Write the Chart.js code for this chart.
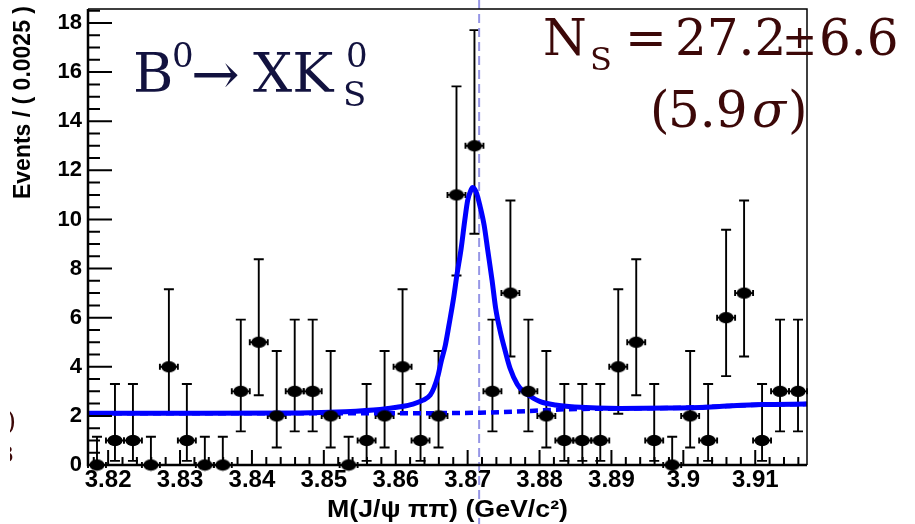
<!DOCTYPE html>
<html>
<head>
<meta charset="utf-8">
<script src="https://cdn.jsdelivr.net/npm/chart.js@4.4.1/dist/chart.umd.min.js"></script>
<style>
	body { margin: 0; background: #fff; }
	canvas { display: block; }
</style>
</head>
<body>
<canvas id="massChart" width="915" height="524"></canvas>
<script>
// axis range and ticks
const xMin = 3.8172, xMax = 3.9172;
const yMin = 0, yMax = 18.57;
const xTicks = [3.82, 3.83, 3.84, 3.85, 3.86, 3.87, 3.88, 3.89, 3.9, 3.91];
const xTickLabels = ["3.82", "3.83", "3.84", "3.85", "3.86", "3.87", "3.88", "3.89", "3.9", "3.91"];
const yTicks = [0, 2, 4, 6, 8, 10, 12, 14, 16, 18];
const yTickLabels = ["0", "2", "4", "6", "8", "10", "12", "14", "16", "18"];
const xTitle = "M(J/\u03c8 \u03c0\u03c0) (GeV/c\u00b2)";
const yTitle = "Events / ( 0.0025 )";
const peakLine = 3.8716;

// binned data (bin width 0.0025)
const binCenters = [3.81845, 3.82095, 3.82345, 3.82595, 3.82845, 3.83095, 3.83345, 3.83595, 3.83845, 3.84095,
	3.84345, 3.84595, 3.84845, 3.85095, 3.85345, 3.85595, 3.85845, 3.86095, 3.86345, 3.86595,
	3.86845, 3.87095, 3.87345, 3.87595, 3.87845, 3.88095, 3.88345, 3.88595, 3.88845, 3.89095,
	3.89345, 3.89595, 3.89845, 3.90095, 3.90345, 3.90595, 3.90845, 3.91095, 3.91345, 3.91595];
const binHalf = 0.00125;
const counts = [0, 1, 1, 0, 4, 1, 0, 0, 3, 5, 2, 3, 3, 2, 0, 1, 2, 4, 1, 2,
	11, 13, 3, 7, 3, 2, 1, 1, 1, 4, 5, 1, 0, 2, 1, 6, 7, 1, 3, 3];
const errLow = [0, 0.83, 0.83, 0, 1.91, 0.83, 0, 0, 1.63, 2.16, 1.29, 1.63, 1.63, 1.29, 0, 0.83, 1.29, 1.91, 0.83, 1.29,
	3.28, 3.58, 1.63, 2.58, 1.63, 1.29, 0.83, 0.83, 0.83, 1.91, 2.16, 0.83, 0, 1.29, 0.83, 2.38, 2.58, 0.83, 1.63, 1.63];
const errHigh = [1.15, 2.3, 2.3, 1.15, 3.16, 2.3, 1.15, 1.15, 2.92, 3.38, 2.64, 2.92, 2.92, 2.64, 1.15, 2.3, 2.64, 3.16, 2.3, 2.64,
	4.42, 4.71, 2.92, 3.77, 2.92, 2.64, 2.3, 2.3, 2.3, 3.16, 3.38, 2.3, 1.15, 2.64, 2.3, 3.58, 3.77, 2.3, 2.92, 2.92];

// fit curve (signal + background)
const fitX = [3.8172, 3.8328, 3.8467, 3.8529, 3.8578, 3.8606, 3.8624, 3.8638, 3.8648, 3.8653,
	3.8659, 3.8663, 3.8669, 3.8674, 3.8680, 3.8685, 3.8691, 3.8696, 3.8700, 3.8705,
	3.8707, 3.8712, 3.8717, 3.8723, 3.8728, 3.8734, 3.8739, 3.8745, 3.8752, 3.8759,
	3.8769, 3.8777, 3.8787, 3.8801, 3.8822, 3.8849, 3.8912, 3.8984, 3.9023, 3.9061, 3.9109, 3.9172];
const fitY = [2.11, 2.11, 2.12, 2.17, 2.26, 2.37, 2.48, 2.64, 2.85, 3.13,
	3.66, 4.19, 4.88, 5.69, 6.71, 7.72, 8.82, 9.96, 10.77, 11.22,
	11.30, 11.10, 10.57, 9.76, 8.74, 7.52, 6.38, 5.49, 4.67, 3.94,
	3.29, 3.01, 2.80, 2.58, 2.44, 2.36, 2.30, 2.32, 2.34, 2.40, 2.46, 2.48];
// background only
const bkgX = [3.8172, 3.8606, 3.8717, 3.8787, 3.8828, 3.8912, 3.8984, 3.9061, 3.9109, 3.9172];
const bkgY = [2.11, 2.11, 2.13, 2.20, 2.26, 2.30, 2.32, 2.40, 2.46, 2.48];

const fitBlue = "#0000ff";
const labelFont = "'Liberation Sans', Arial, sans-serif";

function toPoints(xs, ys){
	let pts = [];
	for(let i=0;i<xs.length;i++) pts.push({x: xs[i], y: ys[i]});
	return pts;
}

function makeMarker(){
	let c = document.createElement("canvas");
	c.width = 16; c.height = 13;
	let g = c.getContext("2d");
	g.fillStyle = "#000";
	g.beginPath();
	g.ellipse(8, 6.5, 7.5, 5.8, 0, 0, 2*Math.PI);
	g.fill();
	return c;
}

// error bars + the dashed marker line, under the curves
const errorBarPlugin = {
	id: "errorBars",
	beforeDatasetsDraw(chart){
		let ctx = chart.ctx;
		let xs = chart.scales.x, ys = chart.scales.y;
		ctx.save();
		ctx.strokeStyle = "#000";
		ctx.lineWidth = 1.9;
		for(let i=0;i<counts.length;i++){
			let px = xs.getPixelForValue(binCenters[i]);
			let py = ys.getPixelForValue(counts[i]);
			let top = ys.getPixelForValue(counts[i] + errHigh[i]);
			let bot = ys.getPixelForValue(counts[i] - errLow[i]);
			let left = xs.getPixelForValue(binCenters[i] - binHalf);
			let right = xs.getPixelForValue(binCenters[i] + binHalf);
			ctx.beginPath();
			ctx.moveTo(px, top); ctx.lineTo(px, bot);
			ctx.moveTo(px-5, top); ctx.lineTo(px+5, top);
			if(errLow[i] > 0){ ctx.moveTo(px-5, bot); ctx.lineTo(px+5, bot); }
			ctx.moveTo(left, py); ctx.lineTo(right, py);
			ctx.moveTo(left, py-3); ctx.lineTo(left, py+3);
			ctx.moveTo(right, py-3); ctx.lineTo(right, py+3);
			ctx.stroke();
		}
		// vertical dashed line at the peak
		let lx = xs.getPixelForValue(peakLine);
		ctx.strokeStyle = "rgb(150,150,230)";
		ctx.lineWidth = 2;
		ctx.setLineDash([9, 5]);
		ctx.beginPath();
		ctx.moveTo(lx, 0); ctx.lineTo(lx, chart.height);
		ctx.stroke();
		ctx.restore();
	}
};

// ROOT style frame with inside ticks
const framePlugin = {
	id: "frame",
	afterDatasetsDraw(chart){
		let ctx = chart.ctx;
		let a = chart.chartArea;
		let xs = chart.scales.x, ys = chart.scales.y;
		ctx.save();
		ctx.strokeStyle = "#000";
		ctx.lineWidth = 1.5;
		ctx.beginPath();
		ctx.moveTo(a.left, a.top); ctx.lineTo(a.right, a.top); ctx.lineTo(a.right, a.bottom);
		ctx.stroke();
		ctx.lineWidth = 2.5;
		ctx.beginPath();
		ctx.moveTo(a.left, a.top); ctx.lineTo(a.left, a.bottom); ctx.lineTo(a.right, a.bottom);
		ctx.stroke();
		ctx.lineWidth = 2;
		ctx.beginPath();
		// y ticks: major every 2, minor every 0.5
		for(let v=0; v<=yMax; v+=0.5){
			let py = ys.getPixelForValue(v);
			let len = (Math.abs(v/2 - Math.round(v/2)) < 1e-6) ? 24 : 12;
			ctx.moveTo(a.left, py); ctx.lineTo(a.left+len, py);
		}
		// x ticks: major every 0.01, minor every 0.002
		for(let k=0; k<=50; k++){
			let v = 3.818 + k*0.002;
			if(v > xMax) break;
			let px = xs.getPixelForValue(v);
			let len = (k % 5 == 1) ? 15 : 8;
			ctx.moveTo(px, a.bottom); ctx.lineTo(px, a.bottom-len);
		}
		ctx.stroke();
		ctx.restore();
	}
};

// labels drawn on top: axis titles and the two formulas
const textPlugin = {
	id: "texts",
	afterDraw(chart){
		let ctx = chart.ctx;
		let a = chart.chartArea;
		ctx.save();
		// y axis title, top aligned like ROOT
		ctx.font = "bold 23px " + labelFont;
		ctx.translate(24, 6);
		ctx.rotate(-Math.PI/2);
		ctx.fillStyle = "#000";
		ctx.textAlign = "right";
		ctx.textBaseline = "middle";
		ctx.fillText(yTitle, 0, 0);
		ctx.restore();

		// x axis title
		ctx.save();
		ctx.font = "bold 24px " + labelFont;
		let wx = ctx.measureText(xTitle).width;
		ctx.translate((a.left + a.right)/2, 517);
		ctx.scale(241/wx, 1);
		ctx.fillStyle = "#000";
		ctx.textAlign = "center";
		ctx.textBaseline = "alphabetic";
		ctx.fillText(xTitle, 0, 0);
		ctx.restore();

		ctx.save();
		ctx.textBaseline = "alphabetic";
		ctx.textAlign = "left";
		ctx.fillStyle = "#12123f";
		ctx.font = "55px 'DejaVu Serif'";
		ctx.fillText("B", 133, 92);
		ctx.fillText("XK", 253, 92);
		ctx.font = "58px 'DejaVu Serif'";
		ctx.fillText("\u2192", 191, 94);
		ctx.font = "34px 'DejaVu Serif'";
		ctx.fillText("0", 172, 67);
		ctx.fillText("0", 346, 67);
		ctx.fillText("S", 343, 106);

		ctx.fillStyle = "#3c0808";
		ctx.font = "50px 'DejaVu Serif'";
		ctx.fillText("N", 543, 55);
		ctx.fillText("=", 625, 55);
		ctx.fillText("27.2", 675, 55);
		ctx.fillText("6.6", 819, 55);
		ctx.fillText("(", 650, 127);
		ctx.fillText("5.9", 668, 127);
		ctx.fillText(")", 788, 127);
		ctx.font = "italic 50px 'DejaVu Serif'";
		ctx.fillText("\u03c3", 752, 127);
		ctx.font = "42px 'DejaVu Serif'";
		ctx.fillText("\u00b1", 782, 55);
		ctx.font = "32px 'DejaVu Serif'";
		ctx.fillText("S", 590, 70);

		// clipped leftovers at the left edge
		ctx.beginPath();
		ctx.rect(10, 400, 8, 70);
		ctx.clip();
		ctx.font = "26px 'DejaVu Serif'";
		ctx.fillText(")", 6, 430);
		ctx.font = "22px 'DejaVu Serif'";
		ctx.fillText("3", 0, 462);
		ctx.restore();
	}
};

let ctx = document.getElementById("massChart").getContext("2d");
let massChart = new Chart(ctx, {
	type: "scatter",
	data: {
		datasets: [{
			label: "data",
			data: toPoints(binCenters, counts),
			pointStyle: makeMarker(),
			pointRadius: 6,
			showLine: false,
			clip: false,
			order: 0
		}, {
			label: "fit",
			data: toPoints(fitX, fitY),
			showLine: true,
			borderColor: fitBlue,
			borderWidth: 5,
			pointRadius: 0,
			cubicInterpolationMode: "monotone",
			order: 1
		}, {
			label: "background",
			data: toPoints(bkgX, bkgY),
			showLine: true,
			borderColor: fitBlue,
			borderWidth: 4.5,
			borderDash: [8, 5],
			pointRadius: 0,
			cubicInterpolationMode: "monotone",
			order: 2
		}]
	},
	options: {
		responsive: false,
		animation: false,
		devicePixelRatio: 1,
		layout: { padding: { left: 0, right: 108, top: 9, bottom: 0 } },
		plugins: { legend: { display: false }, tooltip: { enabled: false } },
		scales: {
			x: {
				type: "linear",
				min: xMin, max: xMax,
				grid: { display: false, drawTicks: false },
				border: { display: false },
				afterBuildTicks: s => { s.ticks = xTicks.map(v => ({value: v})); },
				afterFit: s => { s.height = 59; s.paddingLeft = 0; s.paddingRight = 0; },
				ticks: {
					autoSkip: false, maxRotation: 0, padding: 1, color: "#000",
					font: { family: labelFont, weight: "bold", size: 24 },
					callback: (v, i) => xTickLabels[i]
				}
			},
			y: {
				type: "linear",
				min: yMin, max: yMax,
				grid: { display: false, drawTicks: false },
				border: { display: false },
				afterBuildTicks: s => { s.ticks = yTicks.map(v => ({value: v})); },
				afterFit: s => { s.width = 88; s.paddingTop = 0; s.paddingBottom = 0; },
				ticks: {
					padding: 6, color: "#000",
					font: { family: labelFont, weight: "bold", size: 22 },
					callback: (v, i) => yTickLabels[i]
				}
			}
		}
	},
	plugins: [errorBarPlugin, framePlugin, textPlugin]
});
</script>
</body>
</html>
